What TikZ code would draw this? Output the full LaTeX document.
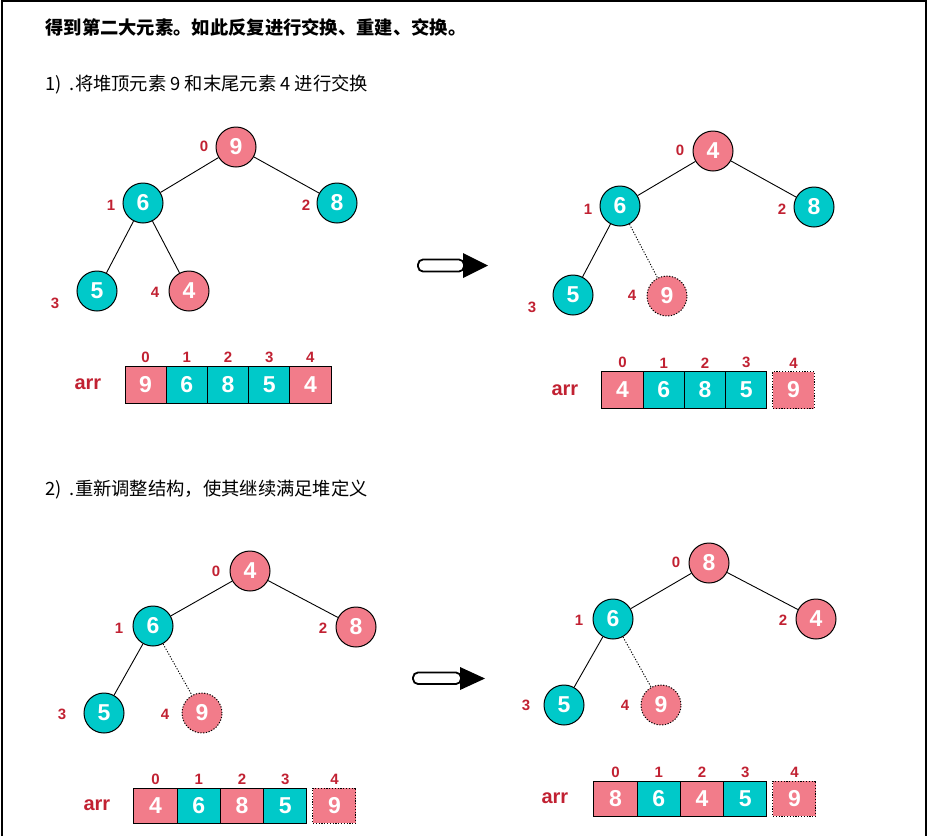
\documentclass[tikz,border=0pt]{standalone}
\usepackage{fontspec}
\setmainfont{Liberation Sans}
\newfontfamily\cjk{Noto Sans CJK SC}
\usetikzlibrary{positioning}
\definecolor{heapred}{RGB}{242,124,138}
\definecolor{heapteal}{RGB}{0,201,201}
\definecolor{idxred}{RGB}{193,33,50}

\begin{document}
\begin{tikzpicture}
  [x=1pt,y=-1pt,line width=0.9pt,
   key/.style={circle,draw=black,line width=1pt,minimum size=40pt,inner sep=0pt,
     text=white,font=\fontsize{23}{23}\selectfont\bfseries},
   hot/.style={fill=heapred},
   cool/.style={fill=heapteal},
   moved/.style={dash pattern=on 1.2pt off 1.6pt},
   idx/.style={text=idxred,inner sep=1pt,font=\fontsize{15}{15}\selectfont\bfseries},
   cell/.style={draw=black,line width=1pt,minimum width=41.25pt,minimum height=37pt,
     inner sep=0pt,outer sep=0pt,text=white,font=\fontsize{23}{23}\selectfont\bfseries},
   arrname/.style={text=idxred,font=\fontsize{20}{20}\selectfont\bfseries},
   step text/.style={anchor=west,inner sep=0pt,font=\cjk\fontsize{18.3}{20}\selectfont}]
  \useasboundingbox (0,0) rectangle (928,836);
  \draw[line width=1.5pt] (2,836) -- (2,1) -- (926,1) -- (926,836);

  \node[step text] (title) at (45,27) {\bfseries 得到第二大元素。如此反复进行交换、重建、交换。};
  \node[step text] (stepa) at (45,85) {1)\ \ .将堆顶元素 9 和末尾元素 4 进行交换};
  \node[step text] (stepb) at (45,490) {2)\ \ .重新调整结构，使其继续满足堆定义};

  % tree 1 : before the swap
  \node[key,hot]  (a0) at (236,147) {9};
  \node[key,cool] (a1) at (143,203) {6};
  \node[key,cool] (a2) at (337,203) {8};
  \node[key,cool] (a3) at (97,291)  {5};
  \node[key,hot]  (a4) at (189,291) {4};
  \foreach \from/\to in {a0/a1, a0/a2, a1/a3, a1/a4}
    \draw (\from) -- (\to);
  \node[idx] (ia0) at (204,146) {0};
  \node[idx] (ia1) at (111,205) {1};
  \node[idx] (ia2) at (306,205) {2};
  \node[idx] (ia3) at (55,303)  {3};
  \node[idx] (ia4) at (155,292) {4};

  % tree 2 : after the swap
  \node[key,hot]  (b0) at (713,151) {4};
  \node[key,cool] (b1) at (620,206) {6};
  \node[key,cool] (b2) at (814,207) {8};
  \node[key,cool] (b3) at (573,295) {5};
  \node[key,hot,moved] (b4) at (667,296) {9};
  \foreach \from/\to in {b0/b1, b0/b2, b1/b3}
    \draw (\from) -- (\to);
  \draw[moved] (b1) -- (b4);
  \node[idx] (ib0) at (680,150) {0};
  \node[idx] (ib1) at (588,209) {1};
  \node[idx] (ib2) at (782,209) {2};
  \node[idx] (ib3) at (532,307) {3};
  \node[idx] (ib4) at (632,295) {4};

  % tree 3
  \node[key,hot]  (c0) at (250,571) {4};
  \node[key,cool] (c1) at (153,626) {6};
  \node[key,hot]  (c2) at (356,627) {8};
  \node[key,cool] (c3) at (104,713) {5};
  \node[key,hot,moved] (c4) at (202,713) {9};
  \foreach \from/\to in {c0/c1, c0/c2, c1/c3}
    \draw (\from) -- (\to);
  \draw[moved] (c1) -- (c4);
  \node[idx] (ic0) at (216,571) {0};
  \node[idx] (ic1) at (119,628) {1};
  \node[idx] (ic2) at (323,628) {2};
  \node[idx] (ic3) at (62,714)  {3};
  \node[idx] (ic4) at (165,714) {4};

  % tree 4
  \node[key,hot]  (d0) at (709,563) {8};
  \node[key,cool] (d1) at (613,619) {6};
  \node[key,hot]  (d2) at (816,619) {4};
  \node[key,cool] (d3) at (564,705) {5};
  \node[key,hot,moved] (d4) at (661,705) {9};
  \foreach \from/\to in {d0/d1, d0/d2, d1/d3}
    \draw (\from) -- (\to);
  \draw[moved] (d1) -- (d4);
  \node[idx] (id0) at (676,562) {0};
  \node[idx] (id1) at (579,620) {1};
  \node[idx] (id2) at (783,620) {2};
  \node[idx] (id3) at (526,705) {3};
  \node[idx] (id4) at (625,705) {4};

  % arrays
  \node[cell,hot,minimum width=41.2pt] (ra0) at (145.6,384.5) {9};
  \node[cell,cool,minimum width=41.2pt,right=0pt of ra0] (ra1) {6};
  \node[cell,cool,minimum width=41.2pt,right=0pt of ra1] (ra2) {8};
  \node[cell,cool,minimum width=41.2pt,right=0pt of ra2] (ra3) {5};
  \node[cell,hot,minimum width=41.2pt,right=0pt of ra3]  (ra4) {4};
  \node[arrname,left=20pt of ra0] (arra) {arr};

  \node[cell,hot] (rb0) at (622.6,390) {4};
  \node[cell,cool,right=0pt of rb0] (rb1) {6};
  \node[cell,cool,right=0pt of rb1] (rb2) {8};
  \node[cell,cool,right=0pt of rb2] (rb3) {5};
  \node[cell,hot,moved,right=6pt of rb3] (rb4) {9};
  \node[arrname,left=20pt of rb0] (arrb) {arr};

  \node[cell,hot,minimum width=43.25pt,minimum height=35pt] (rc0) at (155.6,805.5) {4};
  \node[cell,cool,minimum width=43.25pt,minimum height=35pt,right=0pt of rc0] (rc1) {6};
  \node[cell,hot,minimum width=43.25pt,minimum height=35pt,right=0pt of rc1]  (rc2) {8};
  \node[cell,cool,minimum width=43.25pt,minimum height=35pt,right=0pt of rc2] (rc3) {5};
  \node[cell,hot,moved,minimum width=43pt,minimum height=35pt,right=6pt of rc3] (rc4) {9};
  \node[arrname,left=20pt of rc0] (arrc) {arr};

  \node[cell,hot,minimum width=43.25pt,minimum height=35pt] (rd0) at (615.6,798.5) {8};
  \node[cell,cool,minimum width=43.25pt,minimum height=35pt,right=0pt of rd0] (rd1) {6};
  \node[cell,hot,minimum width=43.25pt,minimum height=35pt,right=0pt of rd1]  (rd2) {4};
  \node[cell,cool,minimum width=43.25pt,minimum height=35pt,right=0pt of rd2] (rd3) {5};
  \node[cell,hot,moved,minimum width=43pt,minimum height=35pt,right=6pt of rd3] (rd4) {9};
  \node[arrname,left=22pt of rd0] (arrd) {arr};

  \foreach \r in {a,b,c,d}
    \foreach \i in {0,...,4}
      \node[idx,above=2pt of r\r\i] (k\r\i) {\i};

  % swap arrows
  \draw[line width=1.8pt,fill=white,rounded corners=5pt] (418,259.5) rectangle (464,271.5);
  \fill (463,253) -- (488,265.5) -- (463,278) -- cycle;
  \draw[line width=1.8pt,fill=white,rounded corners=5pt] (413,672.5) rectangle (461,684);
  \fill (460,667) -- (485,678.5) -- (460,690) -- cycle;
\end{tikzpicture}
\end{document}
